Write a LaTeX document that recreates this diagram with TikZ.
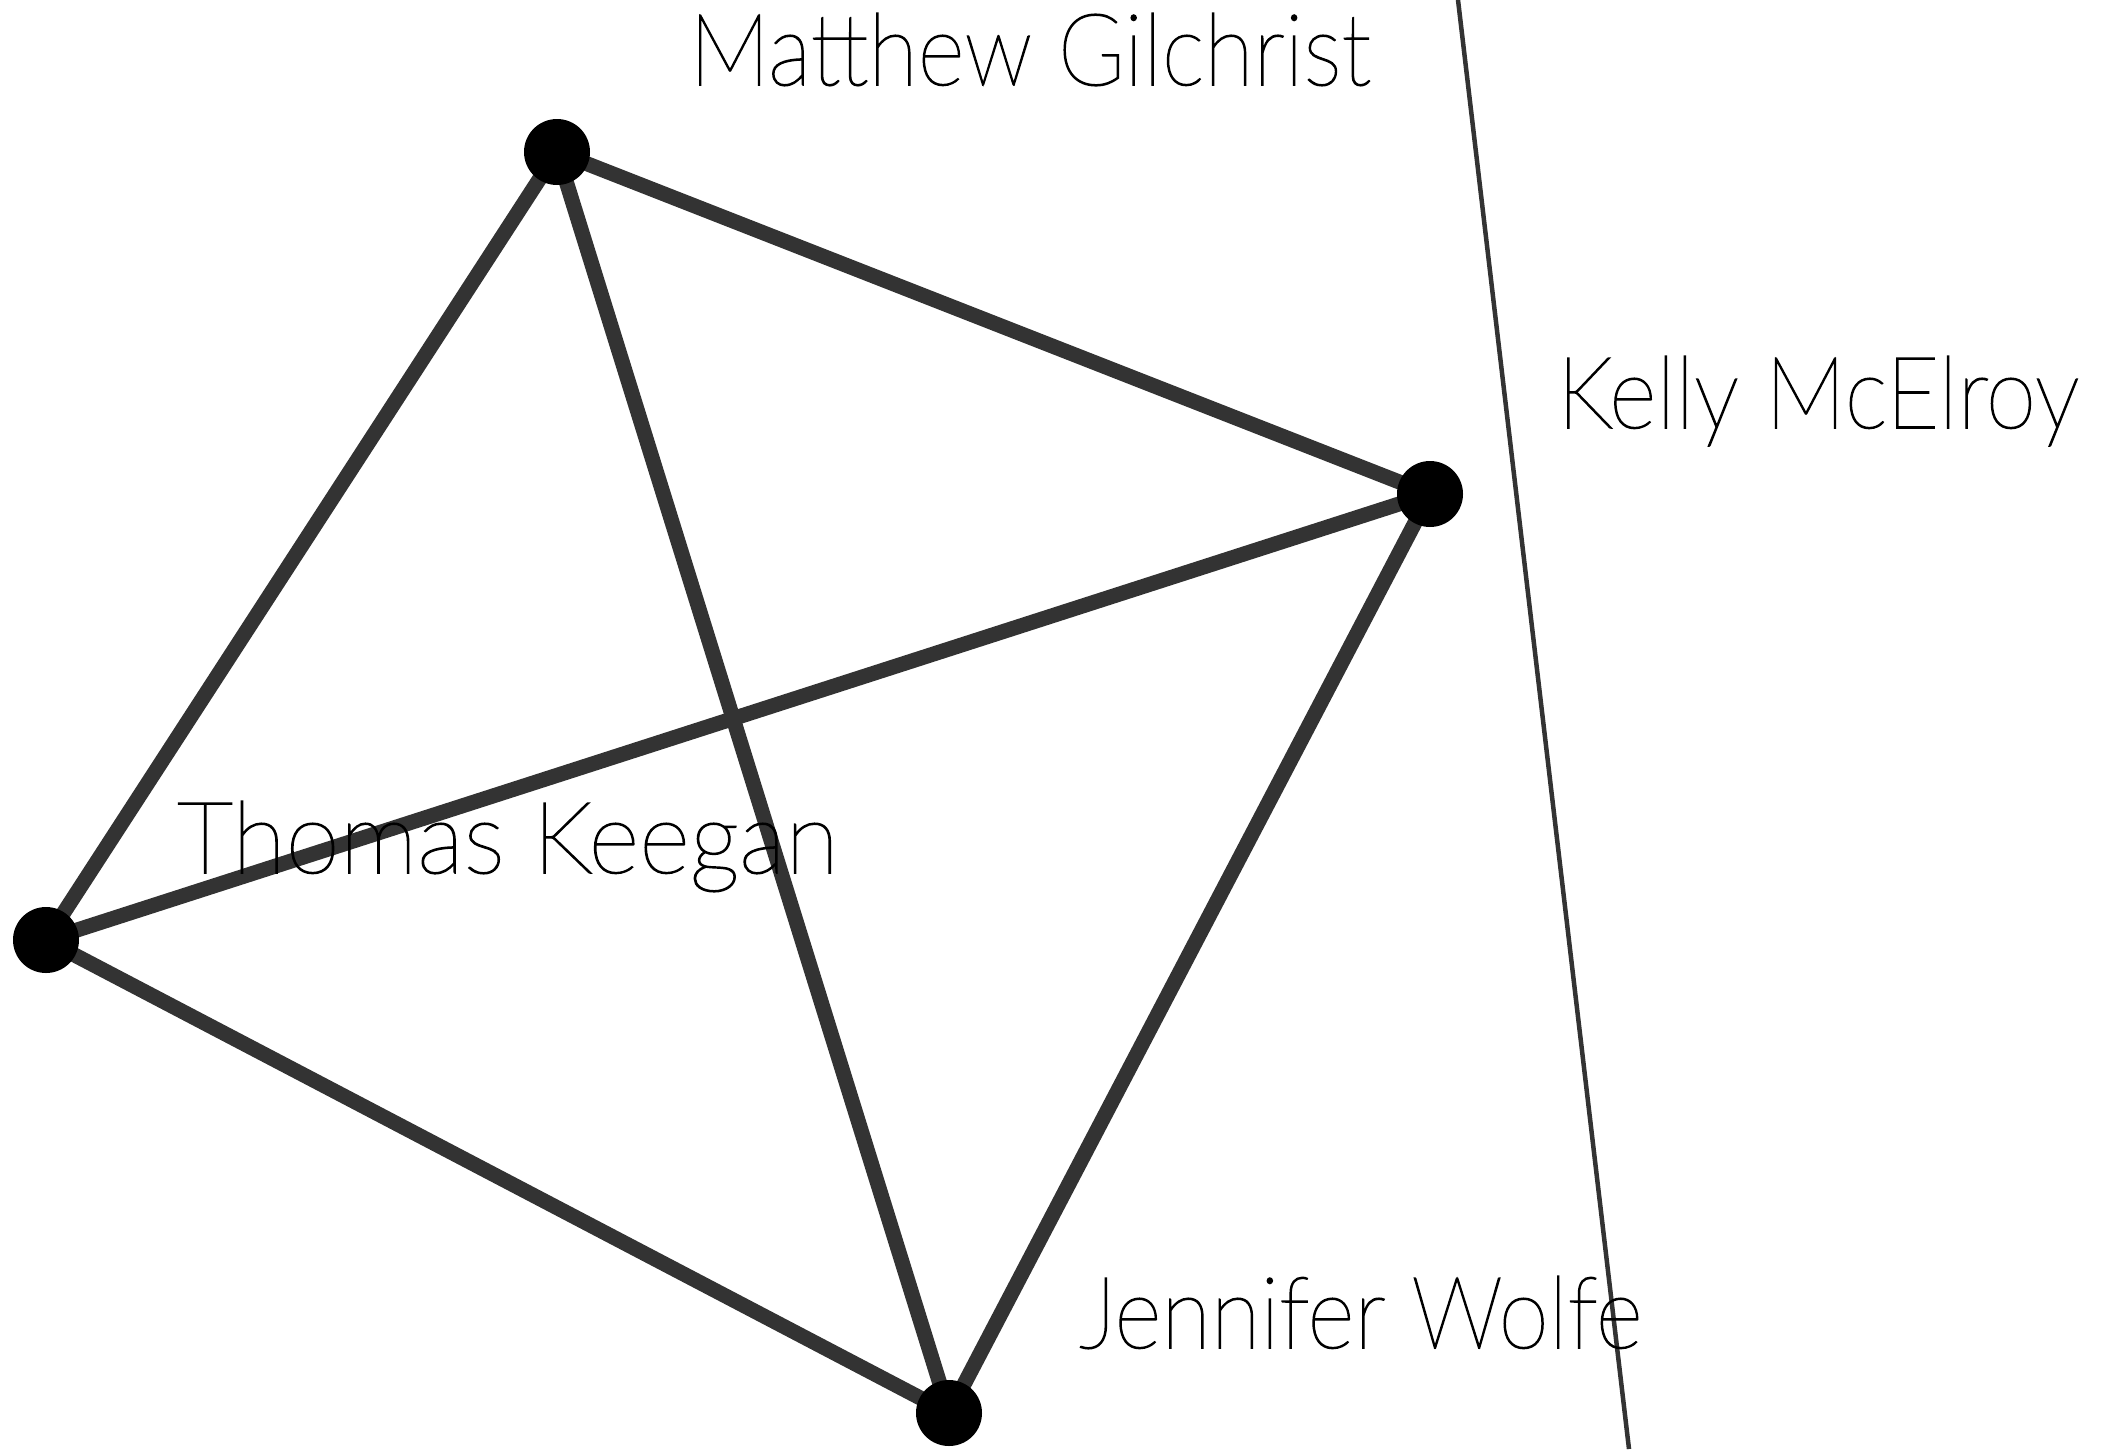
\documentclass[tikz,border=0pt]{standalone}
\usepackage{fontspec}
\setmainfont{Lato Hairline}[FakeBold=1.5]
\begin{document}
\begin{tikzpicture}[x=1pt,y=-1pt,
  dot/.style={circle,fill=black,minimum size=66pt,inner sep=0pt},
  edge/.style={draw=black!80,line width=15pt},
  sep/.style={draw=black!80,line width=4.5pt},
  lab/.style={anchor=base west,inner sep=0pt,font=\fontsize{100}{110}\selectfont}]
\useasboundingbox (0,0) rectangle (2112,1449);
\coordinate (m) at (557,152);
\coordinate (k) at (1430,494);
\coordinate (t) at (46,940);
\coordinate (j) at (949,1413);
\coordinate (s1) at (1458,0);
\coordinate (s2) at (1629,1449);
\draw[sep] (s1) -- (s2);
\draw[edge] (m) -- (k);
\draw[edge] (m) -- (t);
\draw[edge] (m) -- (j);
\draw[edge] (k) -- (t);
\draw[edge] (k) -- (j);
\draw[edge] (t) -- (j);
\node[dot] (nm) at (m) {};
\node[dot] (nk) at (k) {};
\node[dot] (nt) at (t) {};
\node[dot] (nj) at (j) {};
\node[lab] (lm) at (689,85) {\scalebox{0.906}[1]{Matthew Gilchrist}};
\node[lab] (lk) at (1557,428) {\scalebox{0.912}[1]{Kelly McElroy}};
\node[lab] (lt) at (177,873) {\scalebox{0.981}[1]{Thomas Keegan}};
\node[lab] (lj) at (1079,1348) {\scalebox{0.91}[1]{Jennifer Wolfe}};
\end{tikzpicture}
\end{document}
